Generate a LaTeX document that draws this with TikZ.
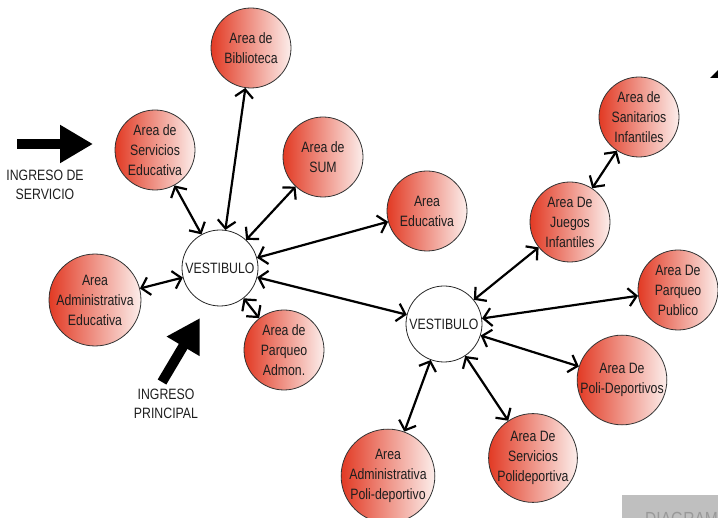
\documentclass[tikz,border=0pt]{standalone}
\usepackage{fontspec}
\setmainfont{Liberation Sans}[FakeStretch=0.82]
\usetikzlibrary{arrows.meta}

\definecolor{zonared}{RGB}{226,58,36}
\definecolor{zonapale}{RGB}{252,238,235}
\definecolor{textgray}{RGB}{30,30,30}

\tikzset{
  zona/.style={circle, draw=black!80, line width=0.8pt, minimum size=80pt,
    inner sep=0pt, left color=zonared, right color=zonapale, align=center,
    font=\fontsize{15}{20}\selectfont, text=textgray},
  vest/.style={circle, draw=black!85, line width=0.8pt, minimum size=76pt,
    inner sep=0pt, fill=white, font=\fontsize{15}{20}\selectfont, text=textgray},
  enlace/.style={{Straight Barb[length=8pt,width=18pt]}-{Straight Barb[length=8pt,width=18pt]},
    line width=2.2pt},
  ingreso/.style={-{Triangle[length=33pt,width=36pt]}, line width=10pt},
  rotulo/.style={align=center, font=\fontsize{15}{19}\selectfont, text=textgray}
}

\begin{document}
\begin{tikzpicture}[x=1pt,y=-1pt]
\useasboundingbox (0,0) rectangle (718,518);
\clip (0,0) rectangle (718,518);

% Vestibulos
\node[vest] (v1) at (220,268) {VESTIBULO};
\node[vest] (v2) at (444,324) {VESTIBULO};

% Areas round the first vestibulo
\node[zona] (bib)   at (251,48)  {Area de\\Biblioteca};
\node[zona] (serv)  at (155,150) {Area de\\Servicios\\Educativa};
\node[zona] (sum)   at (323,157) {Area de\\SUM};
\node[zona] (edu)   at (427,211) {Area\\Educativa};
\node[zona] (admed) at (95,300)  {Area\\Administrativa\\Educativa};
\node[zona] (parq)  at (284,350) {Area de\\Parqueo\\Admon.};

% Areas round the second vestibulo
\node[zona] (sanit) at (639,117) {Area de\\Sanitarios\\Infantiles};
\node[zona] (jueg)  at (570,222) {Area De\\Juegos\\Infantiles};
\node[zona] (parqp) at (678,290) {Area De\\Parqueo\\Publico};
\node[zona] (polid) at (622,380) {Area De\\Poli-Deportivos};
\node[zona] (admpo) at (388,476) {Area\\Administrativa\\Poli-deportivo};
\node[zona] (servp) at (533,458) {Area De\\Servicios\\Polideportiva};

% Links
\draw[enlace] (v1) -- (bib);
\draw[enlace] (v1) -- (serv);
\draw[enlace] (v1) -- (sum);
\draw[enlace] (v1) -- (edu);
\draw[enlace] (v1) -- (admed);
\draw[enlace] (v1) -- (parq);
\draw[enlace] (v1) -- (v2);
\draw[enlace] (v2) -- (jueg);
\draw[enlace] (jueg) -- (sanit);
\draw[enlace] (v2) -- (parqp);
\draw[enlace] (v2) -- (polid);
\draw[enlace] (v2) -- (servp);
\draw[enlace] (v2) -- (admpo);

% Entrances
\node[rotulo] (ingserv) at (45,185) {INGRESO DE\\SERVICIO};
\coordinate (servA) at (17,144);
\coordinate (servB) at (93,144);
\draw[ingreso] (servA) -- (servB);

\node[rotulo] (ingprin) at (166,404) {INGRESO\\PRINCIPAL};
\coordinate (prinA) at (162,382);
\coordinate (prinB) at (200,318);
\draw[ingreso] (prinA) -- (prinB);

% Cut off bits at the edges
\fill (710,78) -- (718,70) -- (718,78) -- cycle;
\fill[black!25] (622,495) rectangle (718,518);
\node[anchor=north west, inner sep=0pt, text=black!40,
  font=\fontsize{19}{19}\selectfont] (diag) at (645,512) {DIAGRAMA};

\end{tikzpicture}
\end{document}
